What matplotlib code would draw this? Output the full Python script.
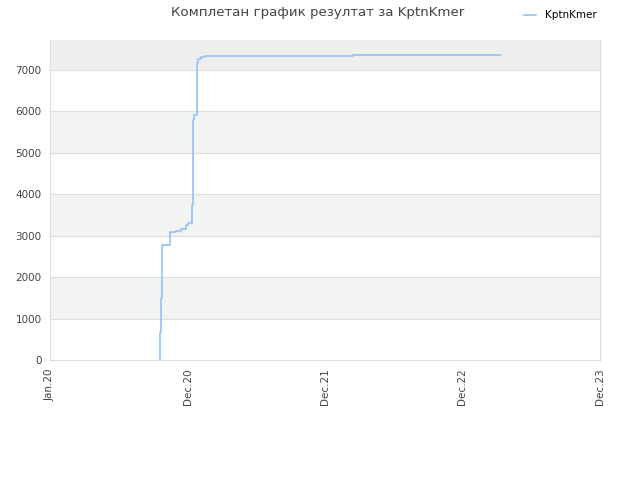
import matplotlib
matplotlib.use("Agg")
import matplotlib.pyplot as plt

# x positions measured in "tick units" (0 = Jan.20, 1 = Dec.20, ...)
tick_labels = ["Jan.20", "Dec.20", "Dec.21", "Dec.22", "Dec.23"]
x_pos = [0.800, 0.800, 0.805, 0.812, 0.873, 0.916, 0.951, 0.989, 1.006,
         1.035, 1.042, 1.050, 1.067, 1.079, 1.096, 1.127, 2.206, 3.280]
scores = [0, 683, 1489, 2776, 3082, 3106, 3155, 3250, 3314,
          3741, 5793, 5914, 7178, 7258, 7306, 7347, 7370, 7370]
series_name = "KptnKmer"
title = "Комплетан график резултат за KptnKmer"

fig = plt.figure(figsize=(6.4, 4.8), dpi=100)
ax = fig.add_axes([50 / 640, 120 / 480, 550 / 640, 320 / 480])

ymax = 7724
# alternating bands
for i in range(0, 8):
    lo = i * 1000
    hi = min((i + 1) * 1000, ymax)
    if i % 2 == 1:
        ax.axhspan(lo, hi, color="#eeeeee" if i == 7 else "#f3f3f3", lw=0, zorder=0)
for v in range(1000, 8000, 1000):
    ax.axhline(v, color="#dddddd", lw=0.8, zorder=1)

ax.step(x_pos, scores, where="post", color="#94c2f2", lw=1.2, zorder=3,
        label=series_name)

ax.set_xlim(0, 4)
ax.set_ylim(0, ymax)
ax.set_xticks(range(len(tick_labels)))
ax.set_xticklabels(tick_labels, rotation=90)
ax.set_yticks(range(0, 8000, 1000))
ax.tick_params(length=0, labelsize=7.5, labelcolor="#444444", pad=6)

for side in ["left", "bottom", "right"]:
    ax.spines[side].set_color("#dddddd")
ax.spines["top"].set_visible(False)

fig.text(0.497, 0.973, title, ha="center", va="center", fontsize=9.6, color="#444444")
fig.legend(loc="center", bbox_to_anchor=(0.875, 0.968), frameon=False,
           fontsize=7.5, handlelength=1.2)

fig.savefig("out.png")
